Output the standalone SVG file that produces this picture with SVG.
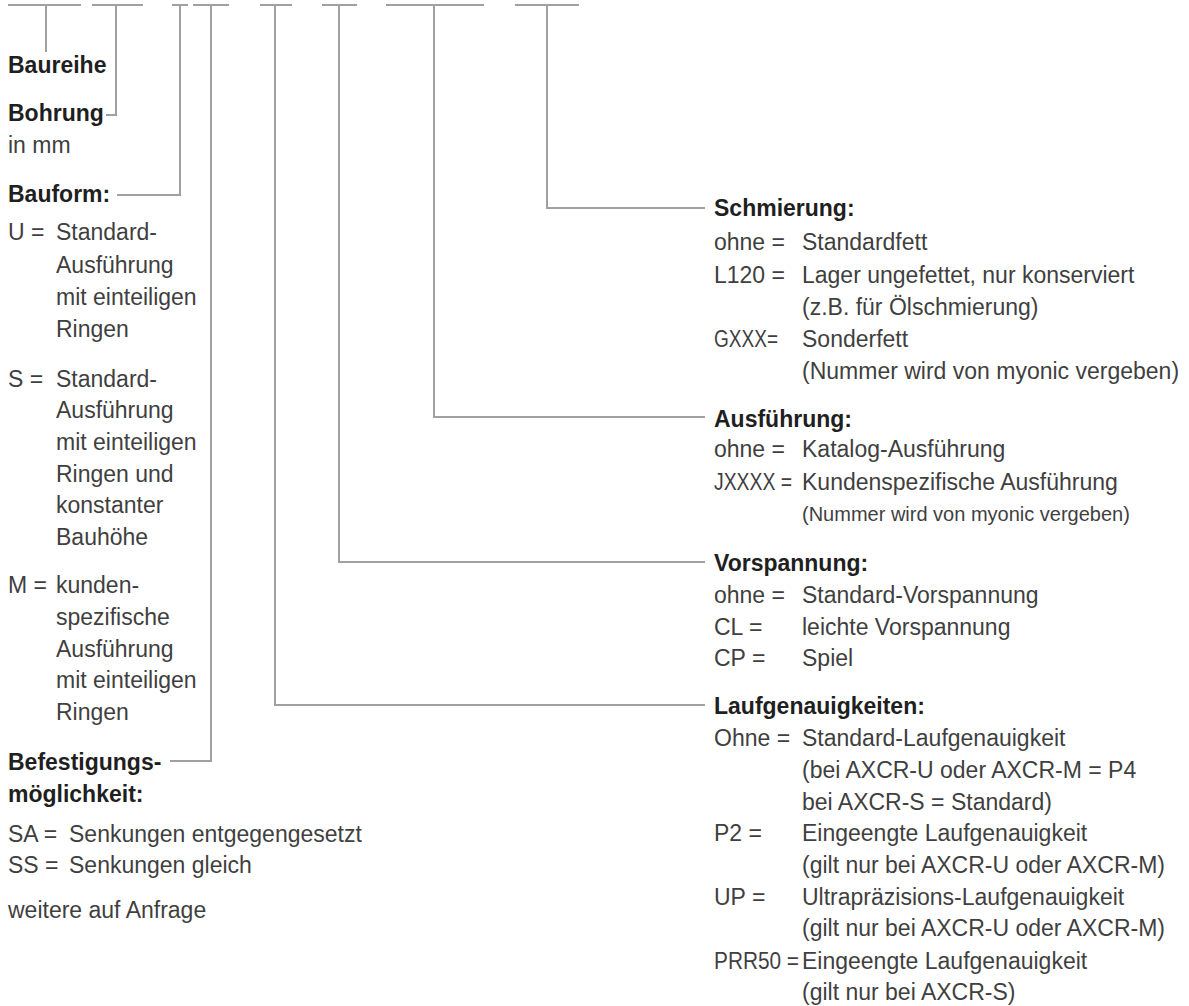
<svg xmlns="http://www.w3.org/2000/svg" width="1189" height="1006" viewBox="0 0 1189 1006">
<style>
text{font-family:"Liberation Sans",Arial,sans-serif;font-size:23px;fill:#3f3f3f}
.h{font-weight:bold;fill:#1f1f1f}
.s{font-size:20px}
.ln{fill:none;stroke:#9ea0a3;stroke-width:2}
</style>
<rect width="1189" height="1006" fill="#ffffff"/>
<g id="connectors" class="ln">
<path d="M8,5H81M46,5V52"/>
<path d="M92,5H143M116,5V115H106"/>
<path d="M172,5H188M180,5V195H117"/>
<path d="M193,5H229M211,5V761H170"/>
<path d="M260,5H292M275,5V705H705"/>
<path d="M322,5H357M339,5V562H705"/>
<path d="M386,5H484M434,5V417H705"/>
<path d="M515,5H579M547,5V208H705"/>
</g>
<g id="baureihe"><text class="h" x="8" y="73">Baureihe</text></g>
<g id="bohrung"><text class="h" x="8" y="121">Bohrung</text><text x="8" y="153">in mm</text></g>
<g id="bauform">
<text class="h" x="8" y="202">Bauform:</text>
<text x="8" y="240">U =</text><text x="56" y="240">Standard-</text>
<text x="56" y="273">Ausführung</text>
<text x="56" y="305">mit einteiligen</text>
<text x="56" y="337">Ringen</text>
<text x="8" y="387">S =</text><text x="56" y="387">Standard-</text>
<text x="56" y="418">Ausführung</text>
<text x="56" y="450">mit einteiligen</text>
<text x="56" y="482">Ringen und</text>
<text x="56" y="513">konstanter</text>
<text x="56" y="545">Bauhöhe</text>
<text x="8" y="593">M =</text><text x="56" y="593">kunden-</text>
<text x="56" y="625">spezifische</text>
<text x="56" y="657">Ausführung</text>
<text x="56" y="688">mit einteiligen</text>
<text x="56" y="720">Ringen</text>
</g>
<g id="befestigung">
<text class="h" x="8" y="770">Befestigungs-</text>
<text class="h" x="8" y="802">möglichkeit:</text>
<text x="8" y="842">SA =</text><text x="69" y="842">Senkungen entgegengesetzt</text>
<text x="8" y="873">SS =</text><text x="69" y="873">Senkungen gleich</text>
<text x="8" y="918">weitere auf Anfrage</text>
</g>
<g id="schmierung">
<text class="h" x="714" y="216">Schmierung:</text>
<text x="714" y="250">ohne =</text><text x="802" y="250">Standardfett</text>
<text x="714" y="283">L120 =</text><text x="802" y="283">Lager ungefettet, nur konserviert</text>
<text x="802" y="315">(z.B. für Ölschmierung)</text>
<text x="714" y="347" textLength="64" lengthAdjust="spacingAndGlyphs">GXXX=</text><text x="802" y="347">Sonderfett</text>
<text x="802" y="379">(Nummer wird von myonic vergeben)</text>
</g>
<g id="ausfuehrung">
<text class="h" x="714" y="427">Ausführung:</text>
<text x="714" y="457">ohne =</text><text x="802" y="457">Katalog-Ausführung</text>
<text x="714" y="490" textLength="78" lengthAdjust="spacingAndGlyphs">JXXXX =</text><text x="802" y="490">Kundenspezifische Ausführung</text>
<text class="s" x="802" y="521">(Nummer wird von myonic vergeben)</text>
</g>
<g id="vorspannung">
<text class="h" x="714" y="571">Vorspannung:</text>
<text x="714" y="603">ohne =</text><text x="802" y="603">Standard-Vorspannung</text>
<text x="714" y="635">CL =</text><text x="802" y="635">leichte Vorspannung</text>
<text x="714" y="666">CP =</text><text x="802" y="666">Spiel</text>
</g>
<g id="laufgenauigkeiten">
<text class="h" x="714" y="714">Laufgenauigkeiten:</text>
<text x="714" y="746">Ohne =</text><text x="802" y="746">Standard-Laufgenauigkeit</text>
<text x="802" y="778">(bei AXCR-U oder AXCR-M = P4</text>
<text x="802" y="810">bei AXCR-S = Standard)</text>
<text x="714" y="841">P2 =</text><text x="802" y="841">Eingeengte Laufgenauigkeit</text>
<text x="802" y="873">(gilt nur bei AXCR-U oder AXCR-M)</text>
<text x="714" y="905">UP =</text><text x="802" y="905">Ultrapräzisions-Laufgenauigkeit</text>
<text x="802" y="936">(gilt nur bei AXCR-U oder AXCR-M)</text>
<text x="714" y="969" textLength="85" lengthAdjust="spacingAndGlyphs">PRR50 =</text><text x="802" y="969">Eingeengte Laufgenauigkeit</text>
<text x="802" y="1000">(gilt nur bei AXCR-S)</text>
</g>
</svg>
